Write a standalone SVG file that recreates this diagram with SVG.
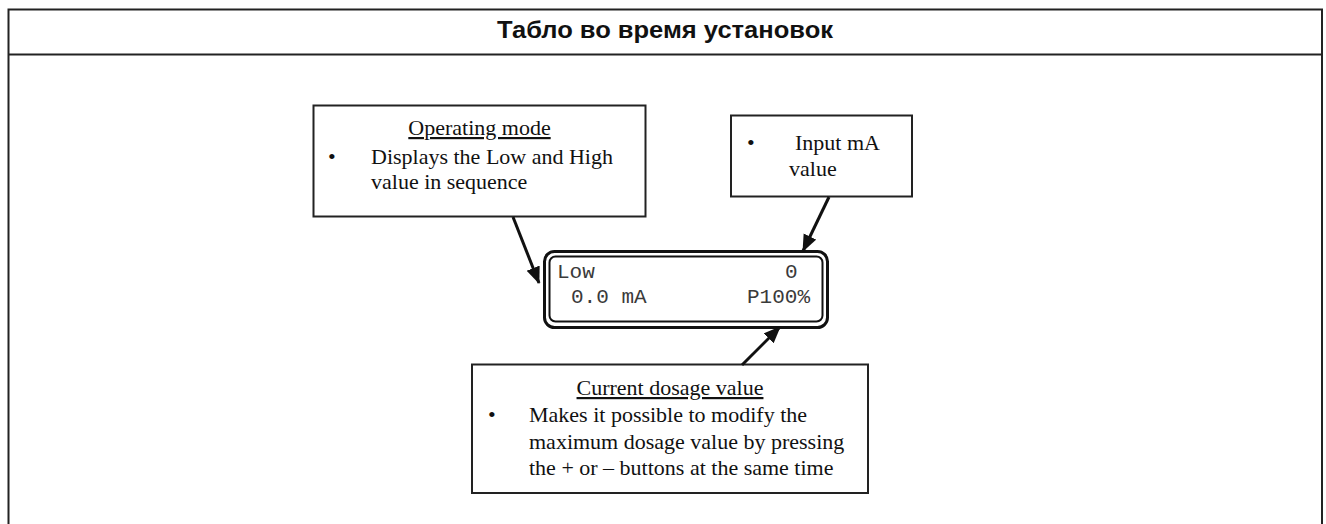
<svg xmlns="http://www.w3.org/2000/svg" width="1326" height="524" viewBox="0 0 1326 524">
<style>
.frame{fill:none;stroke:#222;stroke-width:2}
.box{fill:#fff;stroke:#222;stroke-width:2}
.t{font-family:"Liberation Serif","Times New Roman",serif;font-size:22px;fill:#111}
.title{font-family:"Liberation Sans",Arial,sans-serif;font-size:23px;font-weight:bold;fill:#111}
.mono{font-family:"Liberation Mono","Courier New",monospace;font-size:21px;fill:#3a3a3a}
.arrow{stroke:#111;stroke-width:3;fill:none}
</style>
<defs>
<marker id="ah" markerUnits="userSpaceOnUse" markerWidth="18" markerHeight="16" refX="16" refY="7" orient="auto">
<path d="M0,0 L17,7 L0,14 Z" fill="#111"/>
</marker>
</defs>
<g id="frame">
<rect class="frame" x="8.5" y="9.5" width="1313.5" height="530"/>
<line class="frame" x1="8.5" y1="54.5" x2="1322" y2="54.5"/>
<text class="title" x="665" y="38" text-anchor="middle" textLength="336" lengthAdjust="spacingAndGlyphs">Табло во время установок</text>
</g>
<g id="operating-mode">
<rect class="box" x="313.5" y="105.5" width="332" height="111"/>
<text class="t" x="479.5" y="135" text-anchor="middle" text-decoration="underline">Operating mode</text>
<text class="t" x="328" y="164">•</text>
<text class="t" x="371" y="164">Displays the Low and High</text>
<text class="t" x="371" y="189">value in sequence</text>
</g>
<g id="input-ma">
<rect class="box" x="731" y="115.5" width="181" height="81"/>
<text class="t" x="747" y="150">•</text>
<text class="t" x="795" y="150">Input mA</text>
<text class="t" x="789" y="176">value</text>
</g>
<g id="lcd">
<rect x="544.5" y="251.5" width="283" height="76" rx="10" ry="10" fill="#fff" stroke="#111" stroke-width="3"/>
<rect x="549.5" y="256.5" width="273" height="65" rx="6" ry="6" fill="none" stroke="#111" stroke-width="2"/>
<text class="mono" x="557" y="278">Low</text>
<text class="mono" x="785" y="278">0</text>
<text class="mono" x="571" y="303">0.0 mA</text>
<text class="mono" x="747" y="303">P100%</text>
</g>
<g id="current-dosage">
<rect class="box" x="472" y="364.5" width="396" height="128.5"/>
<text class="t" x="670" y="395" text-anchor="middle" text-decoration="underline">Current dosage value</text>
<text class="t" x="488" y="422">•</text>
<text class="t" x="529" y="422">Makes it possible to modify the</text>
<text class="t" x="529" y="449">maximum dosage value by pressing</text>
<text class="t" x="529" y="475">the + or – buttons at the same time</text>
</g>
<g id="connectors">
<line class="arrow" x1="513" y1="217" x2="539" y2="283" marker-end="url(#ah)"/>
<line class="arrow" x1="829" y1="197" x2="803" y2="251" marker-end="url(#ah)"/>
<line class="arrow" x1="742" y1="365" x2="780" y2="327" marker-end="url(#ah)"/>
</g>
</svg>
